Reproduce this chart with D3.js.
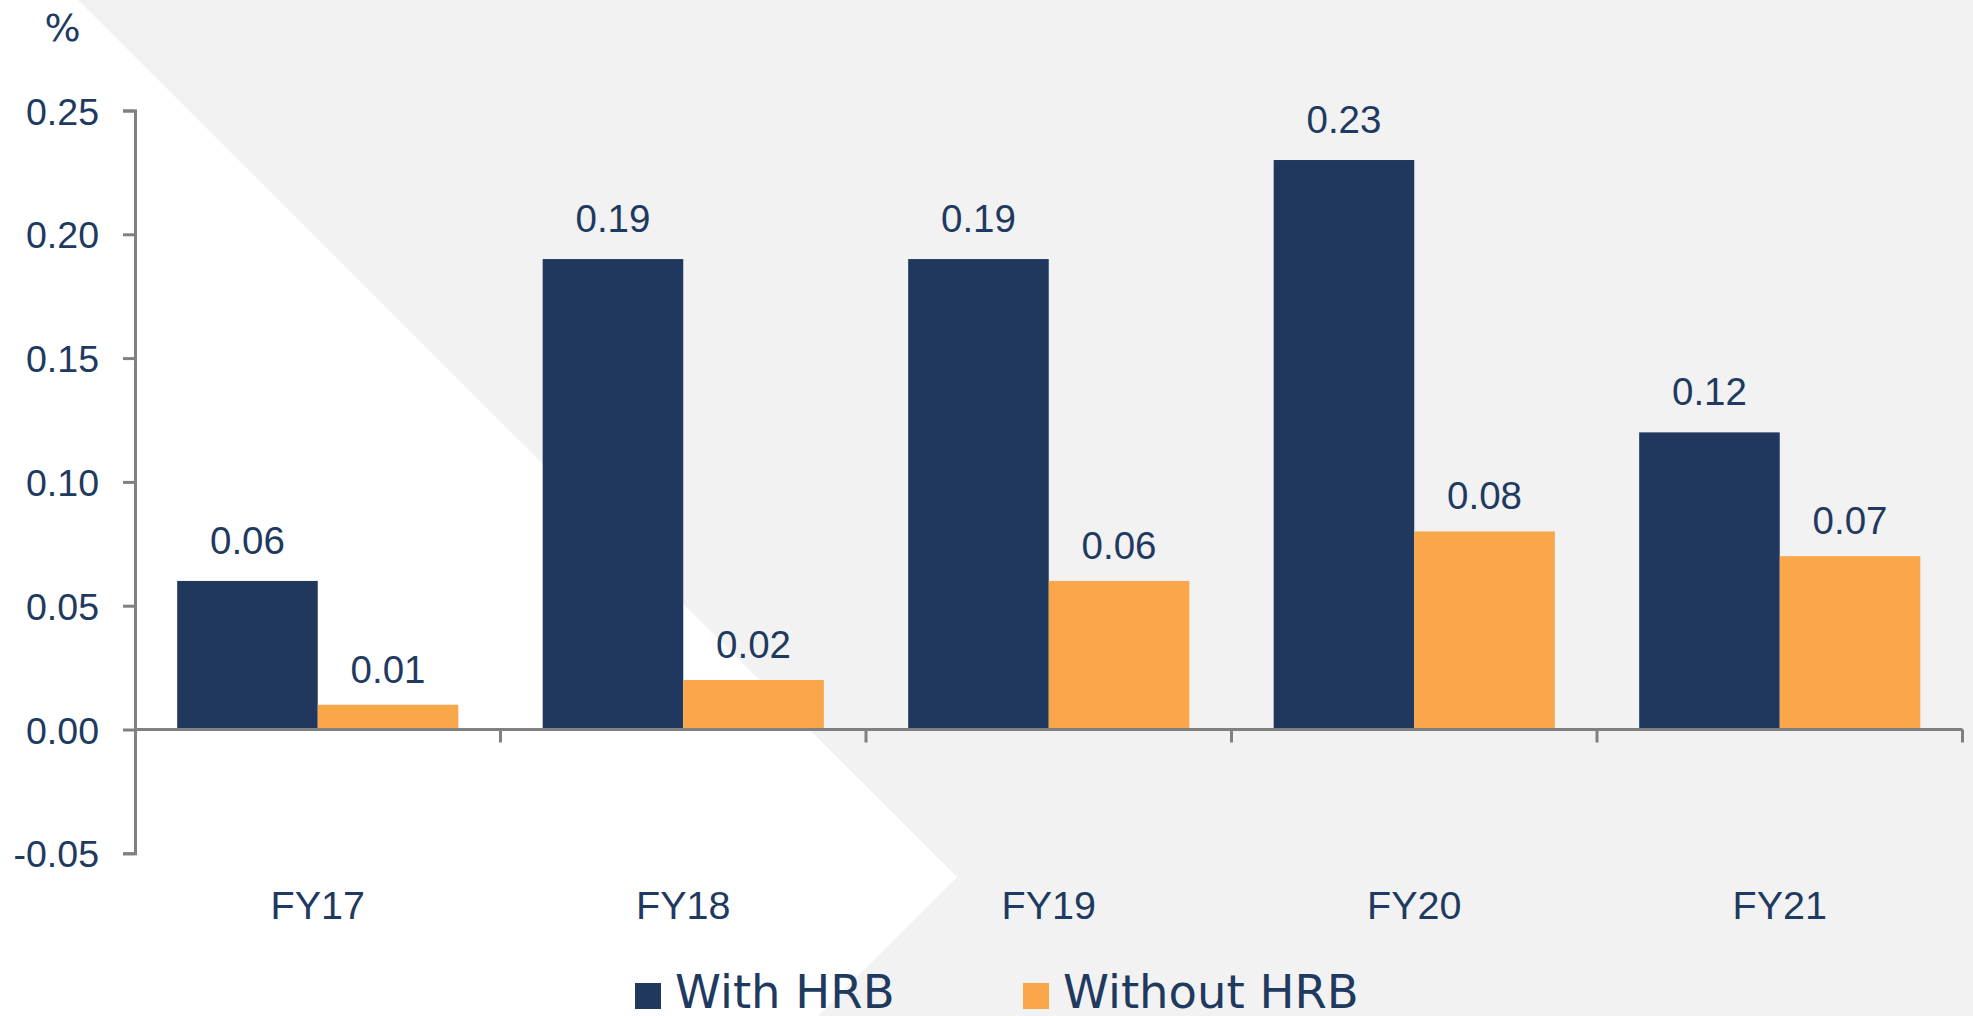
<!DOCTYPE html>
<html>
<head>
<meta charset="utf-8">
<script src="https://cdnjs.cloudflare.com/ajax/libs/d3/7.8.5/d3.min.js"></script>
<style>
  html, body { margin: 0; padding: 0; background: #ffffff; overflow: hidden; }
  svg { display: block; }
</style>
</head>
<body>
<svg id="chart" width="1973" height="1016"></svg>
<script>
const categories = ["FY17", "FY18", "FY19", "FY20", "FY21"];
const seriesNames = ["With HRB", "Without HRB"];
const withHRB = [0.06, 0.19, 0.19, 0.23, 0.12];
const withoutHRB = [0.01, 0.02, 0.06, 0.08, 0.07];
const yTicks = [-0.05, 0.00, 0.05, 0.10, 0.15, 0.20, 0.25];
const unitLabel = "%";

const W = 1973, H = 1016;
const navy = "#20385E", orange = "#FAA64A", textColor = "#1F3A60", axisColor = "#808080";
const colors = [navy, orange];
const labelGap = [27, 22];
const seriesValues = [withHRB, withoutHRB];

const svg = d3.select("#chart");

// background decoration
svg.append("rect").attr("x", 0).attr("y", 0).attr("width", W).attr("height", H).attr("fill", "#F2F2F2");
svg.append("path")
  .attr("d", "M0,0 L78,0 L957,877 L818,1016 L0,1016 Z")
  .attr("fill", "#ffffff");

const x0 = d3.scaleBand().domain(categories).range([135, 1962.5]).paddingInner(0).paddingOuter(0);
const x1 = d3.scaleBand().domain(seriesNames).range([0, x0.bandwidth()]).paddingInner(0).paddingOuter(0.3);
const y = d3.scaleLinear().domain([-0.05, 0.25]).range([853.3, 110.5]);

const fmt = v => d3.format(".2f")(v).replace("\u2212", "-");

// bars
const groups = svg.append("g").selectAll("g")
  .data(categories)
  .join("g")
  .attr("transform", d => `translate(${x0(d)},0)`);

groups.selectAll("rect")
  .data((c, i) => seriesNames.map((s, j) => ({ s, v: seriesValues[j][i], j })))
  .join("rect")
  .attr("x", d => x1(d.s))
  .attr("width", x1.bandwidth())
  .attr("y", d => y(Math.max(0, d.v)))
  .attr("height", d => Math.abs(y(d.v) - y(0)))
  .attr("fill", d => colors[d.j]);

groups.selectAll("text")
  .data((c, i) => seriesNames.map((s, j) => ({ s, v: seriesValues[j][i], j })))
  .join("text")
  .attr("x", d => x1(d.s) + x1.bandwidth() / 2)
  .attr("y", d => y(d.v) - labelGap[d.j])
  .attr("text-anchor", "middle")
  .attr("font-family", "'Liberation Sans', Arial, sans-serif")
  .attr("font-size", 38.5)
  .attr("fill", textColor)
  .text(d => fmt(d.v));

// y axis
const yAxis = d3.axisLeft(y).tickValues(yTicks).tickFormat(fmt).tickSize(12).tickSizeOuter(12).tickPadding(24);
const gy = svg.append("g").attr("transform", "translate(135,0)").call(yAxis);
gy.select(".domain").attr("stroke", axisColor).attr("stroke-width", 3);
gy.selectAll(".tick line").attr("stroke", axisColor).attr("stroke-width", 3);
gy.selectAll(".tick text")
  .attr("font-family", "'Liberation Sans', Arial, sans-serif")
  .attr("font-size", 37.5)
  .attr("fill", textColor)
  .attr("dy", "0.36em");

// x axis (line at zero, ticks at category boundaries)
const gx = svg.append("g");
gx.append("line")
  .attr("x1", x0.range()[0]).attr("x2", x0.range()[1])
  .attr("y1", y(0)).attr("y2", y(0))
  .attr("stroke", axisColor).attr("stroke-width", 3);
const bounds = categories.map(c => x0(c) + x0.bandwidth());
gx.selectAll("line.tk")
  .data(bounds)
  .join("line")
  .attr("class", "tk")
  .attr("x1", d => d).attr("x2", d => d)
  .attr("y1", y(0)).attr("y2", y(0) + 13)
  .attr("stroke", axisColor).attr("stroke-width", 3);
gx.selectAll("text")
  .data(categories)
  .join("text")
  .attr("x", d => x0(d) + x0.bandwidth() / 2)
  .attr("y", 919)
  .attr("text-anchor", "middle")
  .attr("font-family", "'Liberation Sans', Arial, sans-serif")
  .attr("font-size", 39.5)
  .attr("fill", textColor)
  .text(d => d);

// unit label
svg.append("text")
  .attr("x", 62.5).attr("y", 40.5)
  .attr("text-anchor", "middle")
  .attr("font-family", "'DejaVu Sans', sans-serif")
  .attr("font-size", 38)
  .attr("fill", textColor)
  .text(unitLabel);

// legend
const legendX = [635, 1023];
const lg = svg.append("g").selectAll("g")
  .data(seriesNames)
  .join("g")
  .attr("transform", (d, i) => `translate(${legendX[i]},0)`);
lg.append("rect")
  .attr("x", 0).attr("y", 983).attr("width", 26).attr("height", 26)
  .attr("fill", (d, i) => colors[i]);
lg.append("text")
  .attr("x", 40).attr("y", 1007.5)
  .attr("font-family", "'DejaVu Sans', sans-serif")
  .attr("font-size", 46.5)
  .attr("fill", textColor)
  .text(d => d);
</script>
</body>
</html>
